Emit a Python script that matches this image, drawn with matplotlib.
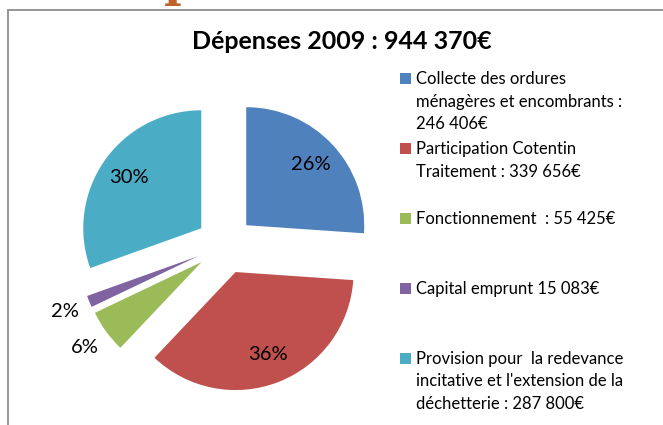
import numpy as np
import matplotlib.pyplot as plt
from matplotlib.patches import Rectangle

plt.rcParams['font.family'] = ['Lato', 'DejaVu Sans']

# données
categories = ["Collecte des ordures\nménagères et encombrants :\n246 406€",
              "Participation Cotentin\nTraitement : 339 656€",
              "Fonctionnement  : 55 425€",
              "Capital emprunt 15 083€",
              "Provision pour  la redevance\nincitative et l'extension de la\ndéchetterie : 287 800€"]
values = [246406, 339656, 55425, 15083, 287800]
colors = ['#4F81BD', '#C0504D', '#9BBB59', '#8064A2', '#4BACC6']
title = "Dépenses 2009 : 944 370€"

W, H = 663, 425
fig = plt.figure(figsize=(W / 100, H / 100), dpi=100)
ax = fig.add_axes([0, 0, 1, 1])

# pie in pixel units (y up)
cx, cy, R = 225, H - 245, 118
expl = 0.246 * R   # explode is in data units here
wedges, texts, autotexts = ax.pie(values, colors=colors, startangle=90, counterclock=False,
                                  explode=[expl] * len(values), radius=R, center=(cx, cy),
                                  autopct='%.0f%%', pctdistance=0.75, frame=True,
                                  wedgeprops=dict(linewidth=0),
                                  textprops=dict(fontsize=14.5, color='black'))
# small slices: labels outside
for w, t, v in zip(wedges, autotexts, values):
    if v / sum(values) < 0.1:
        ang = np.deg2rad((w.theta1 + w.theta2) / 2)
        t.set_position((cx + 1.47 * R * np.cos(ang), cy + 1.47 * R * np.sin(ang)))

ax.set_xlim(0, W)
ax.set_ylim(0, H)
ax.set_aspect('equal')
ax.axis('off')

# chart frame
ax.add_patch(Rectangle((8, -20), 700, H - 10 + 20, fill=False, edgecolor='#8C8C8C', lw=1.3))

# bit of the heading above the chart
ax.text(180, H - 6, 'p', family='DejaVu Serif', fontweight='bold', fontsize=34,
        color='#C0622A', ha='center', va='bottom')

ax.text(342, H - 41, title, fontsize=18, fontweight='bold', ha='center', va='center')

# legend
for i, (lab, col) in enumerate(zip(categories, colors)):
    top = 79 + 70 * i
    ax.add_patch(Rectangle((400, H - top - 5), 11, 11, color=col, lw=0))
    for j, line in enumerate(lab.split('\n')):
        ax.text(416, H - (top + 22.5 * j), line, fontsize=12, ha='left', va='center')

fig.savefig('out.png', dpi=100)
